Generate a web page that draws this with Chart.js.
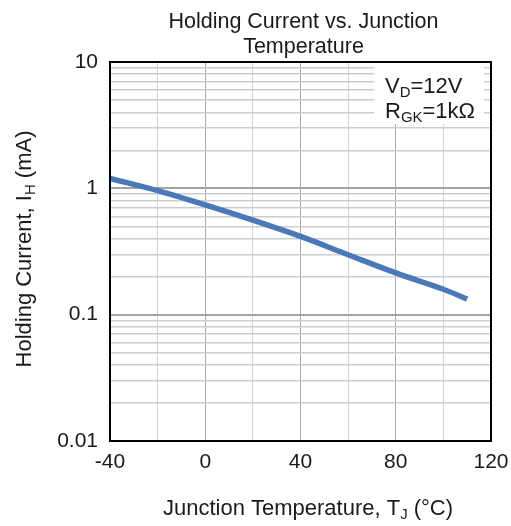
<!DOCTYPE html>
<html>
<head>
<meta charset="utf-8">
<script src="https://cdn.jsdelivr.net/npm/chart.js@4"></script>
<style>
    html, body { margin: 0; padding: 0; background: #fff; }
    #wrap { width: 511px; height: 526px; }
</style>
</head>
<body>
<div id="wrap"><canvas id="chart" width="511" height="526"></canvas></div>
<script>
// Holding current vs junction temperature (log y axis)

const temps = [-40, -20, 0, 20, 40, 60, 80, 100, 110];
const holdingCurrent = [1.2, 0.96, 0.74, 0.56, 0.416, 0.298, 0.214, 0.159, 0.133];

const xTickLabels = [-40, 0, 40, 80, 120];
const yTickLabels = [0.01, 0.1, 1, 10];
const yGridValues = [];
[0.01, 0.1, 1].forEach(d => {
    for (let k = 1; k < 10; k++) yGridValues.push(+(d * k).toPrecision(3));
});
yGridValues.push(10);

const titleLines = ['Holding Current vs. Junction', 'Temperature'];
const noteLines = [
    [{ t: 'V' }, { t: 'D', sub: true }, { t: '=12V' }],
    [{ t: 'R' }, { t: 'GK', sub: true }, { t: '=1kΩ' }]
];
const yTitle = [{ t: 'Holding Current, I' }, { t: 'H', sub: true }, { t: ' (mA)' }];
const xTitle = [{ t: 'Junction Temperature, T' }, { t: 'J', sub: true }, { t: ' (°C)' }];

const FONT = "'Liberation Sans', Arial, sans-serif";
const TEXT = '#1a1a1a';

// draw text with subscript parts
function richWidth(ctx, parts, size) {
    let w = 0;
    parts.forEach(p => {
        ctx.font = `${p.sub ? size * 0.68 : size}px ${FONT}`;
        w += ctx.measureText(p.t).width;
    });
    return w;
}

function drawRich(ctx, parts, x, y, size, align) {
    const w = richWidth(ctx, parts, size);
    let cx = align === 'center' ? x - w / 2 : x;
    ctx.textAlign = 'left';
    ctx.textBaseline = 'alphabetic';
    ctx.fillStyle = TEXT;
    parts.forEach(p => {
        const s = p.sub ? size * 0.68 : size;
        ctx.font = `${s}px ${FONT}`;
        ctx.fillText(p.t, cx, p.sub ? y + size * 0.2 : y);
        cx += ctx.measureText(p.t).width;
    });
}

const decorPlugin = {
    id: 'decor',
    afterDatasetsDraw(chart) {
        const ctx = chart.ctx;
        const a = chart.chartArea;
        ctx.save();

        // note box
        ctx.fillStyle = '#fff';
        ctx.fillRect(374, a.top + 1, 110, 61);
        drawRich(ctx, noteLines[0], 385, 93, 22, 'left');
        drawRich(ctx, noteLines[1], 385, 118, 22, 'left');

        // plot border
        ctx.strokeStyle = '#000';
        ctx.lineWidth = 2;
        ctx.strokeRect(a.left, a.top, a.right - a.left, a.bottom - a.top);

        // title
        ctx.font = `21.5px ${FONT}`;
        ctx.fillStyle = TEXT;
        ctx.textAlign = 'center';
        ctx.textBaseline = 'alphabetic';
        const cx = (a.left + a.right) / 2 + 3;
        ctx.fillText(titleLines[0], cx, 28);
        ctx.fillText(titleLines[1], cx, 53);

        // x title
        drawRich(ctx, xTitle, 308, 515, 22, 'center');

        // y title
        ctx.translate(31, 249);
        ctx.rotate(-Math.PI / 2);
        drawRich(ctx, yTitle, 0, 0, 22, 'center');
        ctx.restore();
    }
};

new Chart(document.getElementById('chart'), {
    type: 'line',
    data: {
        datasets: [{
            data: temps.map((t, i) => ({ x: t, y: holdingCurrent[i] })),
            borderColor: '#4a78b9',
            borderWidth: 5.5,
            pointRadius: 0,
            cubicInterpolationMode: 'monotone',
            fill: false
        }]
    },
    options: {
        responsive: false,
        animation: false,
        devicePixelRatio: 1,
        layout: { padding: { top: 62, right: 20, bottom: 0, left: 0 } },
        plugins: {
            legend: { display: false },
            tooltip: { enabled: false },
            title: { display: false }
        },
        scales: {
            x: {
                type: 'linear',
                min: -40,
                max: 120,
                afterFit: (s) => { s.height = 85; s.paddingLeft = 0; s.paddingRight = 0; },
                afterBuildTicks: (s) => {
                    s.ticks = [];
                    for (let v = -40; v <= 120; v += 20) s.ticks.push({ value: v });
                },
                ticks: {
                    padding: 9,
                    color: TEXT,
                    font: { size: 21, family: FONT },
                    maxRotation: 0,
                    autoSkip: false,
                    callback: (v) => xTickLabels.includes(v) ? String(v) : ''
                },
                grid: {
                    drawTicks: false,
                    color: (c) => (c.tick && c.tick.value % 40 === 0) ? '#a9a9a9' : '#d4d4d4',
                    lineWidth: 1
                },
                border: { display: false }
            },
            y: {
                type: 'logarithmic',
                min: 0.01,
                max: 10,
                afterFit: (s) => { s.width = 110; s.paddingTop = 0; s.paddingBottom = 0; },
                afterBuildTicks: (s) => {
                    s.ticks = yGridValues.map(v => ({ value: v }));
                },
                ticks: {
                    padding: 12,
                    color: TEXT,
                    font: { size: 21, family: FONT },
                    autoSkip: false,
                    callback: (v) => yTickLabels.some(t => Math.abs(t - v) < 1e-9) ? String(v) : ''
                },
                grid: {
                    drawTicks: false,
                    color: (c) => {
                        const v = c.tick ? c.tick.value : 0;
                        return yTickLabels.some(t => Math.abs(t - v) < 1e-9) ? '#a3a3a3' : '#cdcdcd';
                    },
                    lineWidth: (c) => {
                        const v = c.tick ? c.tick.value : 0;
                        return yTickLabels.some(t => Math.abs(t - v) < 1e-9) ? 2 : 1.5;
                    }
                },
                border: { display: false }
            }
        }
    },
    plugins: [decorPlugin]
});
</script>
</body>
</html>
